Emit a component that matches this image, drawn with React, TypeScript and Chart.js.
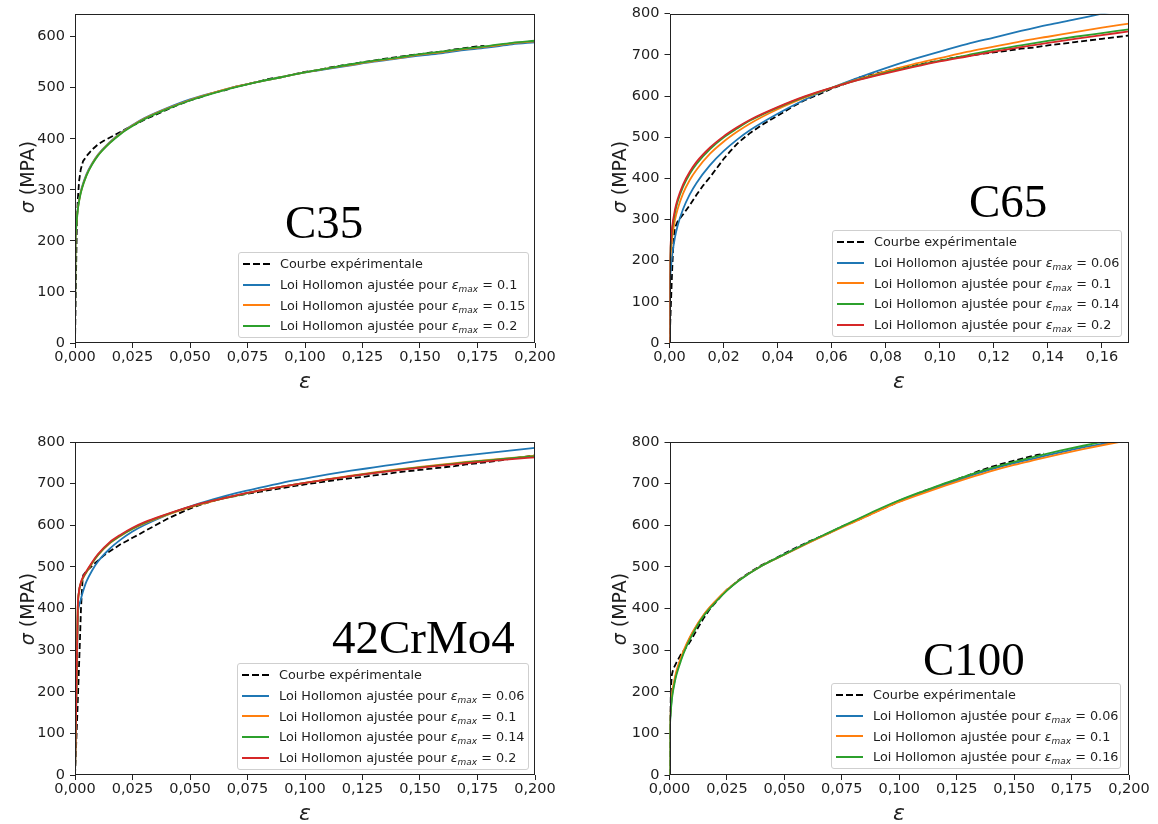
import React, { useEffect, useRef } from "react";
import { Chart, registerables } from "chart.js";

Chart.register(...registerables);

// ---------------- tick values / labels ----------------
const xTicks020 = [0, 0.025, 0.05, 0.075, 0.1, 0.125, 0.15, 0.175, 0.2];
const xTickLabels020 = ["0,000", "0,025", "0,050", "0,075", "0,100", "0,125", "0,150", "0,175", "0,200"];
const xTicks017 = [0, 0.02, 0.04, 0.06, 0.08, 0.1, 0.12, 0.14, 0.16];
const xTickLabels017 = ["0,00", "0,02", "0,04", "0,06", "0,08", "0,10", "0,12", "0,14", "0,16"];
const yTicks600 = [0, 100, 200, 300, 400, 500, 600];
const yTickLabels600 = ["0", "100", "200", "300", "400", "500", "600"];
const yTicks800 = [0, 100, 200, 300, 400, 500, 600, 700, 800];
const yTickLabels800 = ["0", "100", "200", "300", "400", "500", "600", "700", "800"];

// ---------------- C35 ----------------
const c35ExpStrain = [0, 0.0004, 0.0008, 0.0012, 0.0018, 0.0025, 0.0035, 0.005, 0.0065, 0.008, 0.01, 0.0125, 0.015, 0.0175, 0.02, 0.0225, 0.025, 0.0275, 0.03, 0.035, 0.04, 0.045, 0.05, 0.055, 0.06, 0.065, 0.07, 0.075, 0.08, 0.085, 0.09, 0.095, 0.1, 0.105, 0.11, 0.115, 0.12, 0.125, 0.13, 0.135, 0.14, 0.145, 0.15, 0.155, 0.16, 0.165, 0.17, 0.175, 0.178];
const c35ExpStress = [0, 120, 230, 280, 318, 340, 356, 366, 374, 381, 389, 396, 402, 408, 414, 420, 426, 431, 437, 447, 457, 467, 475, 482, 490, 495, 502, 507, 512, 518, 521, 526, 531, 534, 539, 543, 546, 550, 553, 557, 560, 563, 566, 569, 571, 575, 578, 581, 582];
const c35FitStrain = [0, 0.0002, 0.0005, 0.001, 0.002, 0.003, 0.005, 0.0075, 0.01, 0.015, 0.02, 0.025, 0.03, 0.04, 0.05, 0.06, 0.07, 0.08, 0.09, 0.1, 0.11, 0.12, 0.13, 0.14, 0.15, 0.16, 0.17, 0.18, 0.19, 0.2];
const c35Fit010 = [0, 198, 228, 256, 286, 305, 331, 352, 369, 393, 412, 427, 440, 460, 477, 490, 502, 512, 521, 530, 537, 544, 551, 557, 563, 568, 574, 579, 585, 589];
const c35Fit015 = [0, 196, 226, 254, 284, 303, 329, 351, 368, 392, 411, 426, 439, 459, 476, 490, 502, 512, 521, 530, 538, 545, 552, 558, 565, 570, 576, 581, 587, 591];
const c35Fit020 = [0, 195, 225, 253, 283, 302, 328, 350, 367, 391, 410, 425, 438, 458, 475, 489, 501, 512, 521, 530, 538, 546, 553, 559, 566, 571, 577, 582, 588, 592];
const c35EpsMax = ["0.1", "0.15", "0.2"];

// ---------------- C65 ----------------
const c65ExpStrain = [0, 0.0005, 0.001, 0.0015, 0.002, 0.003, 0.005, 0.0075, 0.01, 0.0125, 0.015, 0.0175, 0.02, 0.0225, 0.025, 0.0275, 0.03, 0.035, 0.04, 0.045, 0.05, 0.055, 0.06, 0.065, 0.07, 0.075, 0.08, 0.085, 0.09, 0.095, 0.1, 0.105, 0.11, 0.115, 0.12, 0.125, 0.13, 0.135, 0.14, 0.145, 0.15, 0.155, 0.16, 0.165, 0.17];
const c65ExpStress = [0, 90, 180, 250, 280, 295, 312, 335, 360, 383, 403, 425, 447, 466, 484, 498, 511, 533, 552, 572, 590, 603, 618, 630, 645, 652, 660, 668, 673, 680, 686, 693, 697, 702, 706, 710, 715, 718, 723, 727, 731, 735, 739, 743, 747];
const c65FitStrain = [0, 0.0002, 0.0005, 0.001, 0.002, 0.003, 0.005, 0.0075, 0.01, 0.015, 0.02, 0.025, 0.03, 0.04, 0.05, 0.06, 0.07, 0.08, 0.09, 0.1, 0.11, 0.12, 0.13, 0.14, 0.15, 0.16, 0.17];
const c65Fit006 = [0, 141, 179, 214, 256, 285, 325, 361, 389, 432, 466, 494, 518, 557, 591, 620, 645, 668, 689, 708, 726, 742, 758, 773, 786, 800, 813];
const c65Fit010 = [0, 181, 221, 256, 298, 325, 363, 396, 421, 460, 489, 513, 534, 568, 596, 620, 641, 660, 677, 692, 707, 720, 733, 744, 755, 766, 776];
const c65Fit014 = [0, 200, 240, 276, 316, 343, 379, 411, 435, 471, 499, 521, 541, 572, 598, 620, 640, 657, 672, 686, 699, 712, 723, 734, 744, 753, 762];
const c65Fit020 = [0, 208, 248, 283, 323, 349, 385, 416, 440, 475, 502, 524, 543, 573, 599, 620, 639, 655, 670, 684, 696, 708, 719, 729, 739, 748, 757];
const c65EpsMax = ["0.06", "0.1", "0.14", "0.2"];

// ---------------- 42CrMo4 ----------------
const crmoExpStrain = [0, 0.001, 0.002, 0.0026, 0.003, 0.0033, 0.0036, 0.004, 0.005, 0.0075, 0.01, 0.0125, 0.015, 0.0175, 0.02, 0.0225, 0.025, 0.0275, 0.03, 0.035, 0.04, 0.045, 0.05, 0.055, 0.06, 0.065, 0.07, 0.075, 0.08, 0.085, 0.09, 0.095, 0.1, 0.105, 0.11, 0.115, 0.12, 0.125, 0.13, 0.135, 0.14, 0.145, 0.15, 0.155, 0.16, 0.165, 0.17, 0.175, 0.18, 0.185, 0.19, 0.195, 0.2];
const crmoExpStress = [0, 145, 300, 400, 440, 470, 480, 483, 490, 503, 515, 527, 537, 546, 555, 562, 570, 577, 585, 600, 615, 628, 640, 650, 658, 667, 670, 676, 680, 685, 689, 694, 698, 702, 706, 710, 713, 716, 720, 723, 727, 730, 733, 736, 739, 742, 746, 749, 752, 756, 760, 764, 768];
const crmoFitStrain = [0, 0.0006, 0.0012, 0.0017, 0.0025, 0.003, 0.004, 0.005, 0.0075, 0.01, 0.015, 0.02, 0.025, 0.03, 0.04, 0.05, 0.06, 0.07, 0.08, 0.09, 0.1, 0.11, 0.12, 0.13, 0.14, 0.15, 0.16, 0.17, 0.18, 0.19, 0.2];
const crmoFit006 = [0, 190, 380, 405, 421, 432, 450, 465, 492, 513, 543, 566, 585, 600, 625, 645, 662, 677, 690, 702, 712, 722, 731, 739, 747, 755, 762, 768, 774, 780, 786];
const crmoFit010 = [0, 200, 400, 438, 459, 467, 478, 487, 509, 528, 556, 575, 591, 604, 625, 643, 658, 671, 683, 693, 702, 711, 719, 727, 734, 740, 746, 752, 757, 762, 767];
const crmoFit014 = [0, 200, 400, 439, 460, 468, 479, 488, 510, 529, 557, 576, 592, 605, 626, 644, 659, 671, 683, 693, 702, 710, 718, 726, 733, 739, 745, 751, 756, 761, 766];
const crmoFit020 = [0, 200, 400, 440, 462, 470, 481, 490, 512, 531, 559, 578, 594, 607, 627, 645, 659, 672, 683, 693, 702, 710, 718, 725, 732, 738, 744, 749, 754, 759, 763];
const crmoEpsMax = ["0.06", "0.1", "0.14", "0.2"];

// ---------------- C100 ----------------
const c100ExpStrain = [0, 0.0003, 0.0006, 0.001, 0.0016, 0.003, 0.005, 0.008, 0.01, 0.0125, 0.015, 0.0175, 0.02, 0.0225, 0.025, 0.0275, 0.03, 0.035, 0.04, 0.045, 0.05, 0.055, 0.06, 0.065, 0.07, 0.075, 0.08, 0.085, 0.09, 0.095, 0.1, 0.105, 0.11, 0.115, 0.12, 0.125, 0.13, 0.135, 0.14, 0.145, 0.15, 0.155, 0.16, 0.163];
const c100ExpStress = [0, 150, 205, 240, 254, 270, 290, 312, 330, 355, 378, 398, 414, 430, 445, 456, 468, 487, 504, 517, 532, 546, 559, 571, 583, 597, 608, 620, 633, 645, 657, 668, 681, 690, 700, 710, 720, 731, 740, 748, 755, 762, 769, 772];
const c100FitStrain = [0, 0.0002, 0.0005, 0.001, 0.002, 0.003, 0.005, 0.0075, 0.01, 0.015, 0.02, 0.025, 0.03, 0.04, 0.05, 0.06, 0.07, 0.08, 0.09, 0.1, 0.11, 0.12, 0.13, 0.14, 0.15, 0.16, 0.17, 0.18, 0.19, 0.2];
const c100Fit006 = [0, 115, 150, 185, 220, 245, 279, 313, 341, 385, 417, 444, 467, 502, 530, 557, 583, 609, 634, 659, 679, 698, 717, 734, 749, 762, 775, 787, 797, 808];
const c100Fit010 = [0, 120, 155, 190, 225, 250, 283, 316, 343, 386, 418, 445, 467, 502, 529, 556, 582, 607, 632, 656, 676, 695, 713, 730, 745, 758, 771, 783, 794, 804];
const c100Fit016 = [0, 110, 145, 180, 215, 240, 275, 310, 338, 383, 415, 443, 466, 502, 530, 558, 584, 610, 636, 660, 681, 701, 720, 737, 752, 766, 779, 791, 802, 813];
const c100EpsMax = ["0.06", "0.1", "0.16"];

// ---------------- styling ----------------
const BLUE = "#1f77b4";
const ORANGE = "#ff7f0e";
const GREEN = "#2ca02c";
const RED = "#d62728";
const TEXT = "#1e1e1e";

const panels = [
  {
    key: "C35",
    expStrain: c35ExpStrain, expStress: c35ExpStress,
    fitStrain: c35FitStrain, fits: [c35Fit010, c35Fit015, c35Fit020],
    epsMax: c35EpsMax, colors: [BLUE, ORANGE, GREEN],
    xMax: 0.2, yMax: 645,
    xTicks: xTicks020, xLabels: xTickLabels020, yTicks: yTicks600, yLabels: yTickLabels600,
    canvas: { left: 0, top: 0, width: 579, height: 412 },
    plot: { left: 75, top: 10, right: 535, bottom: 343 },
    label: { left: 285, baseline: 238 },
    legend: { left: 238, top: 252, width: 291 },
    yTitle: { x: 27, y: 176.5 }, xTitle: { x: 305, y: 381 },
  },
  {
    key: "C65",
    expStrain: c65ExpStrain, expStress: c65ExpStress,
    fitStrain: c65FitStrain, fits: [c65Fit006, c65Fit010, c65Fit014, c65Fit020],
    epsMax: c65EpsMax, colors: [BLUE, ORANGE, GREEN, RED],
    xMax: 0.17, yMax: 800,
    xTicks: xTicks017, xLabels: xTickLabels017, yTicks: yTicks800, yLabels: yTickLabels800,
    canvas: { left: 579, top: 0, width: 579, height: 412 },
    plot: { left: 669.5, top: 10, right: 1129, bottom: 343 },
    label: { left: 969, baseline: 217 },
    legend: { left: 832, top: 230, width: 290 },
    yTitle: { x: 619, y: 176.5 }, xTitle: { x: 899, y: 381 },
  },
  {
    key: "42CrMo4",
    expStrain: crmoExpStrain, expStress: crmoExpStress,
    fitStrain: crmoFitStrain, fits: [crmoFit006, crmoFit010, crmoFit014, crmoFit020],
    epsMax: crmoEpsMax, colors: [BLUE, ORANGE, GREEN, RED],
    xMax: 0.2, yMax: 800,
    xTicks: xTicks020, xLabels: xTickLabels020, yTicks: yTicks800, yLabels: yTickLabels800,
    canvas: { left: 0, top: 412, width: 579, height: 412 },
    plot: { left: 75, top: 442, right: 535, bottom: 775 },
    label: { left: 332, baseline: 653 },
    legend: { left: 237, top: 663, width: 292 },
    yTitle: { x: 27, y: 608.5 }, xTitle: { x: 305, y: 813 },
  },
  {
    key: "C100",
    expStrain: c100ExpStrain, expStress: c100ExpStress,
    fitStrain: c100FitStrain, fits: [c100Fit006, c100Fit010, c100Fit016],
    epsMax: c100EpsMax, colors: [BLUE, ORANGE, GREEN],
    xMax: 0.2, yMax: 800,
    xTicks: xTicks020, xLabels: xTickLabels020, yTicks: yTicks800, yLabels: yTickLabels800,
    canvas: { left: 579, top: 412, width: 579, height: 412 },
    plot: { left: 669.5, top: 442, right: 1129, bottom: 775 },
    label: { left: 923, baseline: 675 },
    legend: { left: 831, top: 683, width: 290 },
    yTitle: { x: 619, y: 608.5 }, xTitle: { x: 899, y: 813 },
  },
];

const framePlugin = {
  id: "frame",
  afterDraw(chart: any) {
    const { ctx, chartArea } = chart;
    const l = Math.round(chartArea.left) + 0.5;
    const t = Math.round(chartArea.top) + 0.5;
    const r = Math.round(chartArea.right) - 0.5;
    const b = Math.round(chartArea.bottom) - 0.5;
    ctx.save();
    ctx.strokeStyle = "#222";
    ctx.lineWidth = 1;
    ctx.strokeRect(l, t, r - l, b - t);
    ctx.restore();
  },
};

function PanelChart({ p }: { p: any }) {
  const ref = useRef<HTMLCanvasElement | null>(null);
  useEffect(() => {
    if (!ref.current) return;
    const c = p.canvas;
    const yW = p.plot.left - c.left;
    const xH = c.top + c.height - p.plot.bottom;
    const padTop = p.plot.top - c.top;
    const padRight = c.left + c.width - p.plot.right;
    const n = p.fits.length;
    const datasets: any[] = [
      {
        label: "Courbe expérimentale",
        data: p.expStrain.map((x: number, i: number) => ({ x, y: p.expStress[i] })),
        borderColor: "#000",
        borderWidth: 1.8,
        borderDash: [6, 3],
        tension: 0,
        pointRadius: 0,
        order: 20,
      },
      ...p.fits.map((vals: number[], k: number) => ({
        label: "Loi Hollomon ajustée pour εmax = " + p.epsMax[k],
        data: p.fitStrain.map((x: number, i: number) => ({ x, y: vals[i] })),
        borderColor: p.colors[k],
        borderWidth: 1.8,
        cubicInterpolationMode: "monotone",
        pointRadius: 0,
        order: n - k,
      })),
    ];
    const tickFont = { family: "DejaVu Sans", size: 14.5 };
    const chart = new Chart(ref.current, {
      type: "line",
      data: { datasets },
      plugins: [framePlugin],
      options: {
        responsive: false,
        animation: false,
        devicePixelRatio: 1,
        layout: { padding: { top: padTop, right: padRight, left: 0, bottom: 0 } },
        plugins: { legend: { display: false }, tooltip: { enabled: false } },
        elements: { point: { radius: 0 } },
        scales: {
          x: {
            type: "linear",
            min: 0,
            max: p.xMax,
            afterBuildTicks: (s: any) => {
              s.ticks = p.xTicks.map((v: number) => ({ value: v }));
            },
            afterFit: (s: any) => {
              s.height = xH;
            },
            ticks: {
              autoSkip: false,
              maxRotation: 0,
              padding: 1,
              color: TEXT,
              font: tickFont,
              callback: (_v: any, i: number) => p.xLabels[i],
            },
            grid: { drawOnChartArea: false, drawTicks: true, tickLength: 5, color: "#222", tickColor: "#222" },
            border: { display: false },
          },
          y: {
            type: "linear",
            min: 0,
            max: p.yMax,
            afterBuildTicks: (s: any) => {
              s.ticks = p.yTicks.map((v: number) => ({ value: v }));
            },
            afterFit: (s: any) => {
              s.width = yW;
            },
            ticks: {
              autoSkip: false,
              padding: 5,
              color: TEXT,
              font: tickFont,
              callback: (_v: any, i: number) => p.yLabels[i],
            },
            grid: { drawOnChartArea: false, drawTicks: true, tickLength: 5, color: "#222", tickColor: "#222" },
            border: { display: false },
          },
        },
      } as any,
    });
    return () => chart.destroy();
  }, []);
  const c = p.canvas;
  return (
    <canvas
      ref={ref}
      width={c.width}
      height={c.height}
      style={{ position: "absolute", left: c.left, top: c.top, width: c.width, height: c.height }}
    />
  );
}

function EpsLabel({ v }: { v: string }) {
  return (
    <span>
      Loi Hollomon ajustée pour <span style={{ fontStyle: "italic" }}>ε</span>
      <sub style={{ fontSize: "0.7em", fontStyle: "italic", verticalAlign: "-0.3em", lineHeight: 0 }}>max</sub>
      {" = " + v}
    </span>
  );
}

function Legend({ p }: { p: any }) {
  const rowH = 20.7;
  const rows = 1 + p.fits.length;
  return (
    <div
      style={{
        position: "absolute",
        left: p.legend.left,
        top: p.legend.top,
        width: p.legend.width,
        height: rows * rowH + 3,
        boxSizing: "border-box",
        border: "1px solid #cfcfcf",
        borderRadius: 3,
        background: "rgba(255,255,255,0.85)",
        paddingTop: 0.5,
        paddingLeft: 4,
        fontFamily: "DejaVu Sans",
        fontSize: 12.8,
        color: TEXT,
      }}
    >
      <div style={{ display: "flex", alignItems: "center", height: rowH, whiteSpace: "nowrap" }}>
        <span
          style={{
            display: "inline-block",
            width: 27,
            height: 2,
            marginRight: 10,
            background: "repeating-linear-gradient(90deg, #000 0px, #000 7px, transparent 7px, transparent 10px)",
          }}
        />
        <span>Courbe expérimentale</span>
      </div>
      {p.epsMax.map((v: string, k: number) => (
        <div key={k} style={{ display: "flex", alignItems: "center", height: rowH, whiteSpace: "nowrap" }}>
          <span style={{ display: "inline-block", width: 27, height: 2, marginRight: 10, background: p.colors[k] }} />
          <EpsLabel v={v} />
        </div>
      ))}
    </div>
  );
}

function Overlay({ p }: { p: any }) {
  return (
    <>
      <div
        style={{
          position: "absolute",
          left: p.label.left,
          top: p.label.baseline - 39.4,
          fontFamily: "Liberation Serif",
          fontSize: 47,
          lineHeight: "47px",
          color: "#000",
          whiteSpace: "nowrap",
        }}
      >
        {p.key}
      </div>
      <div
        style={{
          position: "absolute",
          left: p.yTitle.x,
          top: p.yTitle.y,
          transform: "translate(-50%, -50%) rotate(-90deg)",
          whiteSpace: "nowrap",
          fontFamily: "DejaVu Sans",
          fontSize: 19,
          lineHeight: 1,
          color: TEXT,
        }}
      >
        <span style={{ fontStyle: "italic" }}>σ</span> (MPA)
      </div>
      <div
        style={{
          position: "absolute",
          left: p.xTitle.x,
          top: p.xTitle.y,
          transform: "translate(-50%, -50%)",
          fontFamily: "DejaVu Sans",
          fontStyle: "italic",
          fontSize: 22,
          lineHeight: 1,
          color: TEXT,
        }}
      >
        ε
      </div>
      <Legend p={p} />
    </>
  );
}

export default function App() {
  return (
    <div style={{ position: "absolute", left: 0, top: 0, width: 1158, height: 824, background: "#fff", overflow: "hidden" }}>
      {panels.map((p) => (
        <PanelChart key={p.key} p={p} />
      ))}
      {panels.map((p) => (
        <Overlay key={"o" + p.key} p={p} />
      ))}
    </div>
  );
}
